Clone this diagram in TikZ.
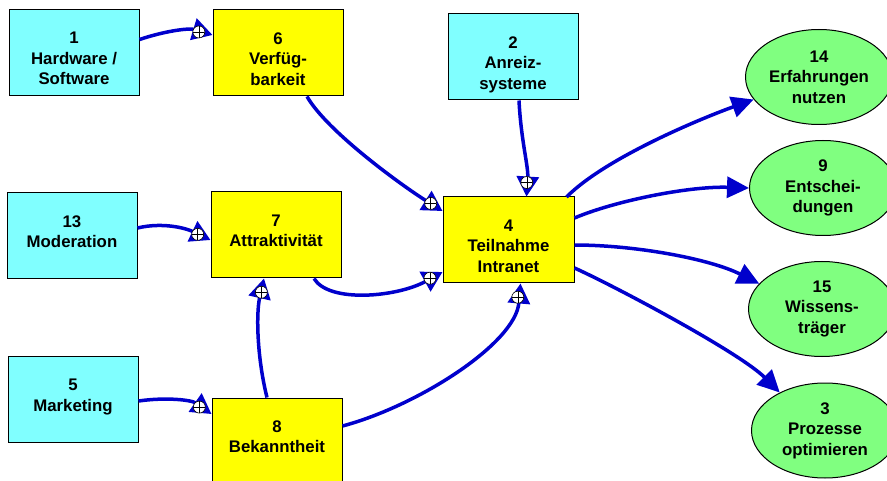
\documentclass[tikz,border=0pt]{standalone}
\usepackage{fontspec}
\setmainfont{Liberation Sans}
\usetikzlibrary{arrows.meta,shapes.misc,shapes.geometric,decorations.markings,calc}
\definecolor{cbox}{RGB}{128,255,255}
\definecolor{ybox}{RGB}{255,255,0}
\definecolor{gell}{RGB}{128,255,128}
\definecolor{conn}{RGB}{0,0,204}
\begin{document}
\begin{tikzpicture}[x=1pt,y=-1pt,
 txt/.style={font=\bfseries\fontsize{16.8}{20.5}\selectfont, align=center, inner sep=0pt},
 cyanbox/.style={draw=black, line width=1pt, fill=cbox, rectangle, minimum width=130pt, minimum height=86pt, inner sep=0pt},
 yelbox/.style={draw=black, line width=1pt, fill=ybox, chamfered rectangle, chamfered rectangle xsep=6pt, chamfered rectangle ysep=6pt, minimum width=130pt, minimum height=86pt, inner sep=0pt},
 goal/.style={draw=black, line width=1pt, fill=gell, ellipse, minimum width=147pt, minimum height=95pt, inner sep=0pt},
 toptext/.style={label={[txt,anchor=north,yshift=-23pt]north:{#1}}},
 midtext/.style={label={[txt]center:{#1}}},
 pluscirc/.style={circle, arrows=-, draw=black, line width=0.6pt, fill=white, minimum size=12pt, inner sep=0pt,
   path picture={\draw[arrows=-, black, line width=0.6pt] (path picture bounding box.north) -- (path picture bounding box.south) (path picture bounding box.west) -- (path picture bounding box.east);}},
 infl/.style={draw=conn, line width=3.5pt, -{Triangle[length=20pt,width=22pt]}, postaction={decorate},
   decoration={markings, mark=at position -14pt with {\node[pluscirc] (p#1) {};}}},
 effect/.style={draw=conn, line width=3.5pt, -{Triangle[length=22pt,width=21pt]}},
]
\useasboundingbox (0,0) rectangle (887,481);
% nodes
\node[cyanbox, toptext={1\\Hardware /\\Software}] (n1) at (74,52.5) {};
\node[yelbox, toptext={6\\Verfüg-\\barkeit}] (n6) at (278,53) {};
\node[cyanbox, toptext={2\\Anreiz-\\systeme}] (n2) at (513,57) {};
\node[cyanbox, toptext={13\\Moderation}] (n13) at (72,236) {};
\node[yelbox, toptext={7\\Attraktivität}] (n7) at (276,235) {};
\node[yelbox, minimum width=131pt, toptext={4\\Teilnahme\\Intranet}] (n4) at (508.5,240) {};
\node[cyanbox, toptext={5\\Marketing}] (n5) at (73,399.5) {};
\node[yelbox, minimum height=84pt, toptext={8\\Bekanntheit}] (n8) at (277,440) {};
\node[goal, midtext={14\\Erfahrungen\\nutzen}] (n14) at (819,77) {};
\node[goal, midtext={9\\Entschei-\\dungen}] (n9) at (823,188) {};
\node[goal, midtext={15\\Wissens-\\träger}] (n15) at (822,309) {};
\node[goal, midtext={3\\Prozesse\\optimieren}] (n3) at (825,430.5) {};
% influence connectors
\draw[infl=a] ($(n1.east)+(0,-13)$) .. controls +(27,-9) and +(-23,-7) .. ($(n6.west)+(0,-18)$);
\draw[infl=b] ($(n6.south)+(29,0)$) .. controls +(20,35) and +(-40,-25) .. ($(n4.west)+(0,-29)$);
\draw[infl=c] ($(n2.south)+(6,0)$) .. controls +(2,40) and +(2,-30) .. ($(n4.north)+(18,0)$);
\draw[infl=d] ($(n13.east)+(0,-8)$) .. controls +(25,-6) and +(-25,-12) .. ($(n7.west)+(0,5)$);
\draw[infl=e] ($(n7.south)+(38,0)$) .. controls +(15,25) and +(-45,25) .. ($(n4.west)+(0,32)$);
\draw[infl=f] ($(n8.north)+(-10,0)$) .. controls +(-10,-40) and +(-8,35) .. ($(n7.south)+(-12,0)$);
\draw[infl=g] ($(n5.east)+(0,1.5)$) .. controls +(28,-4) and +(-20,-14) .. ($(n8.west)+(0,-26)$);
\draw[infl=h] ($(n8.east)+(0,-14)$) .. controls +(75,-20) and +(-5,60) .. ($(n4.south)+(12,0)$);
% effect connectors
\draw[effect] ($(n4.east)+(-8,-43)$) .. controls +(40,-40) and +(-50,18) .. (n14.199);
\draw[effect] ($(n4.east)+(0,-22)$) .. controls +(40,-17) and +(-60,-2) .. (n9.west);
\draw[effect] ($(n4.east)+(0,5)$) .. controls +(60,0) and +(-50,-25) .. (n15.158);
\draw[effect] ($(n4.east)+(0,28)$) .. controls +(40,18) and +(-40,-40) .. (n3.140);
\end{tikzpicture}
\end{document}
